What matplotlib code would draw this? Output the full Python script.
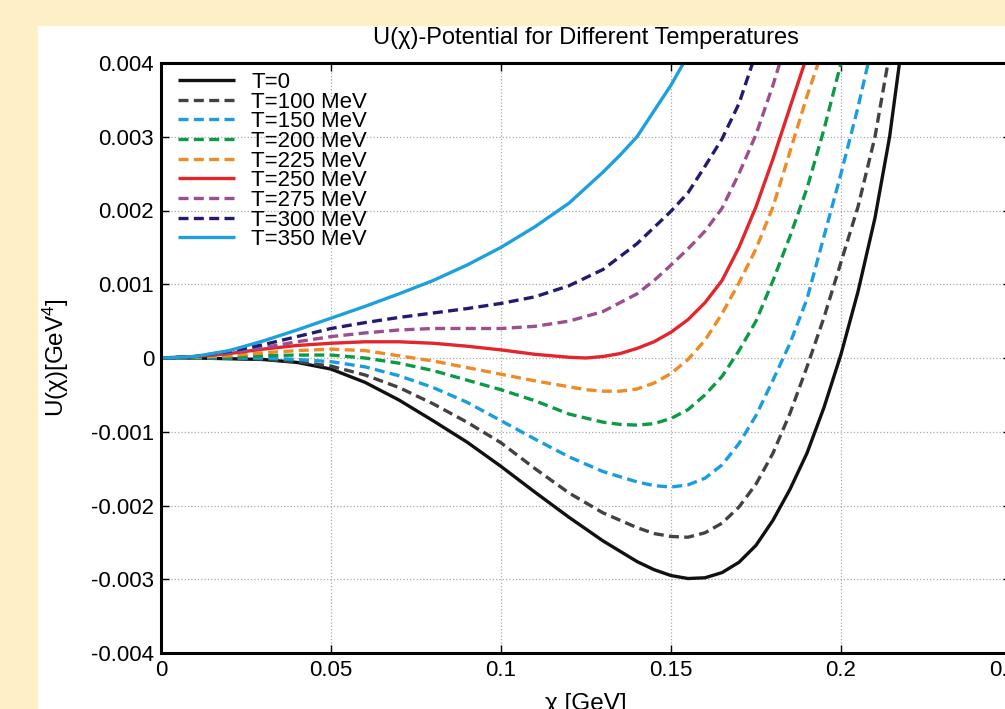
import matplotlib
matplotlib.use('Agg')
import matplotlib.pyplot as plt
from matplotlib.patches import Rectangle

plt.rcParams['font.family'] = ['Liberation Sans', 'DejaVu Sans']
plt.rcParams['mathtext.fontset'] = 'custom'
plt.rcParams['mathtext.rm'] = 'Liberation Sans'
plt.rcParams['mathtext.it'] = 'Liberation Sans:italic'

# values (chi in GeV, U in GeV^4)
x_t0 = [0, 0.01, 0.02, 0.03, 0.04, 0.05, 0.06, 0.07, 0.08, 0.09, 0.1, 0.11, 0.12, 0.13, 0.14, 0.145,
        0.15, 0.155, 0.16, 0.165, 0.17, 0.175, 0.18, 0.185, 0.19, 0.195, 0.2, 0.205, 0.21, 0.2143,
        0.2172, 0.219]
u_t0 = [0, 0, -0.00001, -0.00002, -0.00006, -0.00015, -0.00033, -0.00057, -0.00085, -0.00114, -0.00147,
        -0.00182, -0.00216, -0.00248, -0.00276, -0.00287, -0.00295, -0.00299, -0.00298, -0.00291, -0.00277,
        -0.00254, -0.0022, -0.00178, -0.00129, -0.00067, 0.00005, 0.0009, 0.0019, 0.003, 0.004, 0.0046]

x_t100 = [0, 0.01, 0.02, 0.03, 0.04, 0.05, 0.06, 0.07, 0.08, 0.09, 0.1, 0.11, 0.12, 0.13, 0.14, 0.145,
          0.15, 0.155, 0.16, 0.165, 0.17, 0.175, 0.18, 0.185, 0.19, 0.195, 0.2, 0.205, 0.21, 0.2138,
          0.2155]
u_t100 = [0, 0, 0, -0.00002, -0.00005, -0.00011, -0.00023, -0.0004, -0.00062, -0.00087, -0.00115, -0.0015,
          -0.00183, -0.0021, -0.0023, -0.00238, -0.00242, -0.00243, -0.00237, -0.00224, -0.00202,
          -0.00171, -0.00129, -0.00075, -0.00012, 0.00055, 0.0013, 0.00205, 0.003, 0.004, 0.0045]

x_t150 = [0, 0.01, 0.02, 0.03, 0.04, 0.05, 0.06, 0.07, 0.08, 0.09, 0.1, 0.11, 0.12, 0.13, 0.14, 0.145,
          0.15, 0.155, 0.16, 0.165, 0.17, 0.175, 0.18, 0.185, 0.19, 0.195, 0.2, 0.205, 0.208, 0.21]
u_t150 = [0, 0, 0, 0, -0.00002, -0.00005, -0.00012, -0.00024, -0.0004, -0.0006, -0.00085, -0.0011,
          -0.00134, -0.00154, -0.00168, -0.00173, -0.00175, -0.00172, -0.00163, -0.00145, -0.00116,
          -0.00078, -0.0003, 0.0002, 0.0008, 0.00165, 0.0025, 0.0034, 0.004, 0.0044]

x_t200 = [0, 0.01, 0.02, 0.03, 0.04, 0.05, 0.06, 0.07, 0.08, 0.09, 0.1, 0.11, 0.12, 0.13, 0.135, 0.14,
          0.145, 0.15, 0.155, 0.16, 0.165, 0.17, 0.175, 0.18, 0.185, 0.19, 0.195, 0.2, 0.202]
u_t200 = [0, 0, 0.00001, 0.00003, 0.00004, 0.00004, 0.0, -0.00007, -0.00017, -0.0003, -0.00043, -0.00058,
          -0.00076, -0.00087, -0.0009, -0.00091, -0.00089, -0.00082, -0.0007, -0.0005, -0.00025, 0.0001,
          0.0005, 0.00105, 0.00165, 0.0023, 0.0031, 0.004, 0.0044]

x_t225 = [0, 0.01, 0.02, 0.03, 0.04, 0.05, 0.06, 0.07, 0.08, 0.09, 0.1, 0.11, 0.12, 0.125, 0.13, 0.135,
          0.14, 0.145, 0.15, 0.155, 0.16, 0.165, 0.17, 0.175, 0.18, 0.185, 0.19, 0.1933, 0.195]
u_t225 = [0, 0.00001, 0.00003, 0.00007, 0.0001, 0.00012, 0.0001, 0.00003, -0.00004, -0.00013, -0.00022,
          -0.00031, -0.00039, -0.00043, -0.00045, -0.00045, -0.00042, -0.00034, -0.00021, -0.00002,
          0.00024, 0.0006, 0.00102, 0.00148, 0.00205, 0.0028, 0.00355, 0.004, 0.0043]

x_t250 = [0, 0.01, 0.02, 0.03, 0.04, 0.05, 0.06, 0.07, 0.08, 0.09, 0.1, 0.11, 0.12, 0.125, 0.13, 0.135,
          0.14, 0.145, 0.15, 0.155, 0.16, 0.165, 0.17, 0.175, 0.18, 0.185, 0.1893, 0.191]
u_t250 = [0, 0.00002, 0.00006, 0.00012, 0.00017, 0.0002, 0.00022, 0.00022, 0.0002, 0.00016, 0.00011,
          0.00005, 0.00001, 0.0, 0.00002, 0.00006, 0.00013, 0.00022, 0.00035, 0.00052, 0.00075, 0.00105,
          0.0015, 0.00205, 0.0027, 0.0034, 0.004, 0.0043]

x_t275 = [0, 0.01, 0.02, 0.03, 0.04, 0.05, 0.06, 0.07, 0.08, 0.09, 0.1, 0.11, 0.12, 0.13, 0.14, 0.145,
          0.15, 0.155, 0.16, 0.165, 0.17, 0.175, 0.18, 0.182, 0.1835]
u_t275 = [0, 0.00002, 0.00007, 0.00014, 0.00022, 0.00029, 0.00034, 0.00038, 0.0004, 0.0004, 0.0004,
          0.00043, 0.0005, 0.00063, 0.00087, 0.00105, 0.00126, 0.00148, 0.00172, 0.00203, 0.0025, 0.00303,
          0.0037, 0.004, 0.0043]

x_t300 = [0, 0.01, 0.02, 0.03, 0.04, 0.05, 0.06, 0.07, 0.08, 0.09, 0.1, 0.11, 0.12, 0.13, 0.14, 0.15,
          0.155, 0.16, 0.165, 0.17, 0.174, 0.176]
u_t300 = [0, 0.00002, 0.00009, 0.00018, 0.00029, 0.0004, 0.00048, 0.00055, 0.00061, 0.00067, 0.00074,
          0.00083, 0.00098, 0.0012, 0.00155, 0.00199, 0.00224, 0.0026, 0.00297, 0.00345, 0.004, 0.0043]

x_t350 = [0, 0.01, 0.02, 0.03, 0.04, 0.05, 0.06, 0.07, 0.08, 0.09, 0.1, 0.11, 0.12, 0.13, 0.135, 0.14,
          0.145, 0.15, 0.1537, 0.156]
u_t350 = [0, 0.00002, 0.0001, 0.00023, 0.00038, 0.00054, 0.0007, 0.00087, 0.00105, 0.00126, 0.0015,
          0.00178, 0.0021, 0.00252, 0.00275, 0.003, 0.00335, 0.0037, 0.004, 0.0042]

labels = ['T=0', 'T=100 MeV', 'T=150 MeV', 'T=200 MeV', 'T=225 MeV',
          'T=250 MeV', 'T=275 MeV', 'T=300 MeV', 'T=350 MeV']
colors = ['#111111', '#404245', '#1a9de0', '#0c9a46', '#f08a24',
          '#e2262b', '#9b4f8c', '#221c6e', '#1ea0dc']
solid = [True, False, False, False, False, True, False, False, True]

xticks = [0, 0.05, 0.1, 0.15, 0.2, 0.25]
xticklabels = ['0', '0.05', '0.1', '0.15', '0.2', '0.25']
yticks = [-0.004, -0.003, -0.002, -0.001, 0, 0.001, 0.002, 0.003, 0.004]
yticklabels = ['-0.004', '-0.003', '-0.002', '-0.001', '0', '0.001', '0.002', '0.003', '0.004']

xs = [x_t0, x_t100, x_t150, x_t200, x_t225, x_t250, x_t275, x_t300, x_t350]
us = [u_t0, u_t100, u_t150, u_t200, u_t225, u_t250, u_t275, u_t300, u_t350]

fig = plt.figure(figsize=(10.05, 7.09), dpi=100)
fig.patch.set_facecolor('#feefc7')
# white panel behind the plot (the beige strip shows on the left and top)
fig.patches.append(Rectangle((38 / 1005, 0), 1, (709 - 26) / 709, transform=fig.transFigure,
                             facecolor='white', edgecolor='none', zorder=-10))

ax = fig.add_axes([161 / 1005, 56 / 709, 850 / 1005, 590 / 709])
ax.set_facecolor('white')

for x, u, lab, c, s in zip(xs, us, labels, colors, solid):
    if s:
        ax.plot(x, u, color=c, lw=2.4, label=lab, solid_capstyle='butt')
    else:
        ax.plot(x, u, color=c, lw=2.4, label=lab, dashes=(3, 1.6), dash_capstyle='butt')

ax.set_xlim(0, 0.25)
ax.set_ylim(-0.004, 0.004)
ax.set_xticks(xticks)
ax.set_xticklabels(xticklabels)
ax.set_yticks(yticks)
ax.set_yticklabels(yticklabels)
ax.tick_params(direction='in', length=6, width=1, labelsize=16, top=True, right=True, pad=5)
ax.grid(True, linestyle=':', color='#aaaaaa', lw=0.9)
for sp in ax.spines.values():
    sp.set_linewidth(2.2)

ax.set_title('U(χ)-Potential for Different Temperatures', fontsize=17, pad=14)
ax.set_xlabel('χ [GeV]', fontsize=17.5, labelpad=9)
ax.set_ylabel('U(χ)[GeV$^4$]', fontsize=17.5, labelpad=14)

ax.legend(loc='upper left', bbox_to_anchor=(0.02, 0.985), frameon=False, fontsize=16,
          handlelength=2.55, handletextpad=0.75, labelspacing=-0.06, borderpad=0, borderaxespad=0)

fig.savefig('out.png', dpi=100, facecolor=fig.get_facecolor())
